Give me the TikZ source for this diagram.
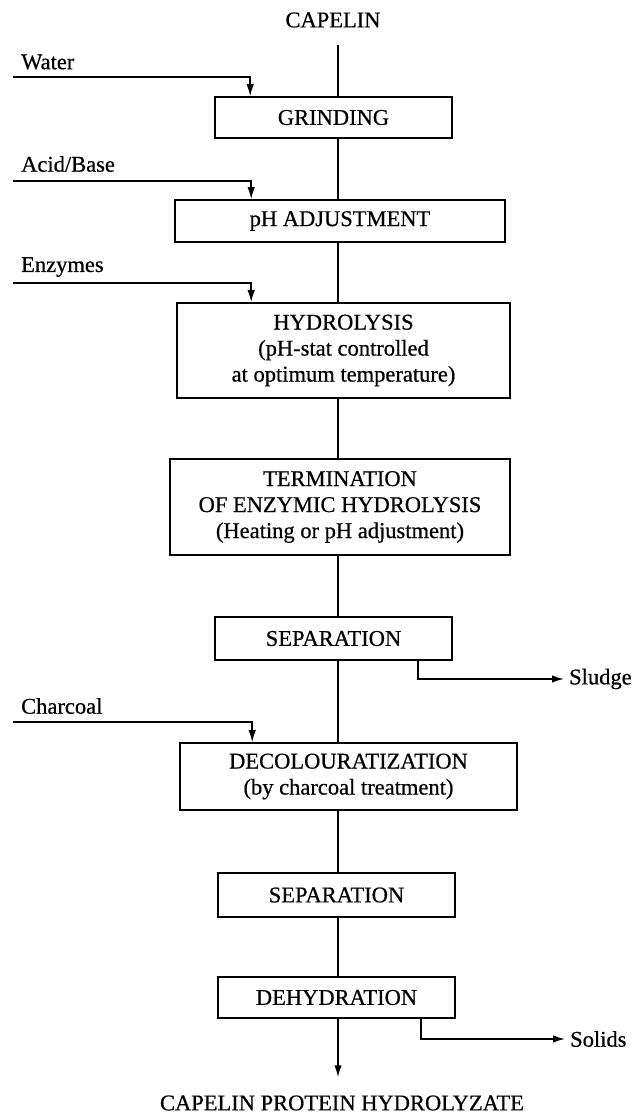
\documentclass[tikz,border=0pt]{standalone}
\usepackage{fontspec}
\setmainfont{Liberation Serif}[FakeBold=0.6]
\usetikzlibrary{arrows.meta}
\begin{document}
\begin{tikzpicture}[x=1pt,y=-1pt,
  box/.style={draw,line width=1.6pt,inner sep=0pt,align=center,font=\fontsize{22.5}{26}\selectfont},
  lbl/.style={inner sep=0pt,font=\fontsize{22.5}{26}\selectfont},
  ln/.style={line width=1.6pt},
  arr/.style={line width=1.6pt,-{Latex[length=12pt,width=7.5pt]}}]
\useasboundingbox (0,0) rectangle (642,1114);
\coordinate (ax) at (338,0);
% process boxes
\node[box,minimum width=237pt,minimum height=41pt] (grind) at (333.5,117.5) {GRINDING};
\node[box,minimum width=330pt,minimum height=42pt] (ph) at (340,221) {pH ADJUSTMENT};
\node[box,minimum width=333pt,minimum height=95pt] (hyd) at (343.5,350.5) {HYDROLYSIS\\(pH-stat controlled\\at optimum temperature)};
\node[box,minimum width=340pt,minimum height=96pt] (term) at (340,507) {TERMINATION\\OF ENZYMIC HYDROLYSIS\\(Heating or pH adjustment)};
\node[box,minimum width=237pt,minimum height=43pt] (sep) at (333.5,638.5) {SEPARATION};
\node[box,minimum width=337pt,minimum height=67pt] (dec) at (348.5,776.5) {DECOLOURATIZATION\\(by charcoal treatment)};
\node[box,minimum width=237pt,minimum height=44pt] (sep2) at (336.5,895) {SEPARATION};
\node[box,minimum width=237pt,minimum height=41pt] (dehyd) at (336.5,997.5) {DEHYDRATION};
% labels
\node[lbl] (capelin) at (333,20) {CAPELIN};
\node[lbl,anchor=west] (water) at (21,62) {Water};
\node[lbl,anchor=west] (acid) at (21,164) {Acid/Base};
\node[lbl,anchor=west] (enz) at (21,267) {Enzymes};
\node[lbl,anchor=west] (char) at (21,706) {Charcoal};
\node[lbl,anchor=west] (sludge) at (569,679) {Sludge};
\node[lbl,anchor=west] (solids) at (570,1039) {Solids};
\node[lbl] (prod) at (342,1103) {CAPELIN PROTEIN HYDROLYZATE};
% input feed lines
\coordinate (w0) at (13,77);
\coordinate (a0) at (13,181);
\coordinate (e0) at (13,283);
\coordinate (c0) at (13,722);
\draw[arr] (w0) -| ([xshift=36pt]grind.north west);
\draw[arr] (a0) -| ([xshift=77pt]ph.north west);
\draw[arr] (e0) -| ([xshift=75pt]hyd.north west);
\draw[arr] (c0) -| ([xshift=73pt]dec.north west);
% main line
\draw[ln] ([yshift=-17pt]ax |- capelin.south) -- (ax |- grind.north);
\draw[ln] (ax |- grind.south) -- (ax |- ph.north);
\draw[ln] (ax |- ph.south) -- (ax |- hyd.north);
\draw[ln] (ax |- hyd.south) -- (ax |- term.north);
\draw[ln] (ax |- term.south) -- (ax |- sep.north);
\draw[ln] (ax |- sep.south) -- (ax |- dec.north);
\draw[ln] (ax |- dec.south) -- (ax |- sep2.north);
\draw[ln] (ax |- sep2.south) -- (ax |- dehyd.north);
\draw[arr] (ax |- dehyd.south) -- ([yshift=18pt]ax |- prod.north);
% outputs
\draw[arr,shorten >=5pt] ([xshift=-35pt]sep.south east) |- (sludge.west);
\draw[arr,shorten >=5pt] ([xshift=-35pt]dehyd.south east) |- (solids.west);
\end{tikzpicture}
\end{document}
